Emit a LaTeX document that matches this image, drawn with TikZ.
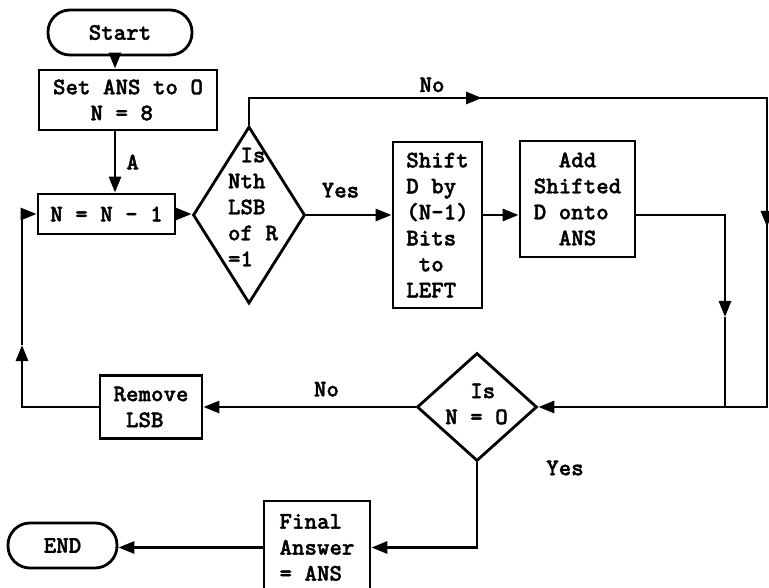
\documentclass[tikz,border=0pt]{standalone}
\usepackage{fontspec}
\newfontfamily\tw{lmmonolt10-bold.otf}[FakeBold=1.5]
\usetikzlibrary{arrows.meta,shapes.geometric}
\newcommand\blk{\hphantom{N}}
\begin{document}
\begin{tikzpicture}[x=1pt,y=-1pt,
  line width=2.8pt,
  every node/.style={font=\tw\fontsize{23.8}{26}\selectfont},
  box/.style={draw, rectangle, inner sep=0pt, align=left},
  term/.style={draw, rectangle, rounded corners=22pt, inner sep=0pt},
  dia/.style={draw, diamond, inner sep=0pt},
  arr/.style={-{Triangle[length=16pt,width=12pt]}},
  lbl/.style={inner sep=0pt}]
\useasboundingbox (0,0) rectangle (769,588);
\clip (0,0) rectangle (769,588);
\fill[white] (0,0) rectangle (769,588);

% nodes
\node[term, minimum width=144pt, minimum height=45pt] (start) at (120,32.5) {Start};
\node[box, minimum width=178pt, minimum height=60pt] (set) at (128,100) {Set ANS to O\\\blk\blk\blk N = 8};
\node[box, minimum width=137pt, minimum height=40pt] (dec) at (106.5,214) {N = N - 1};
\node[dia, minimum width=112pt, minimum height=177pt] (d1) at (249,215) {};
\node[align=left] (d1t) at (253,207) {\blk Is\\Nth\\LSB\\of R\\=1};
\node[box, minimum width=89pt, minimum height=166pt] (shift) at (437.5,225) {Shift\\D by\\(N-1)\\Bits\\\blk to\\LEFT};
\node[box, minimum width=115pt, minimum height=116pt] (add) at (577.5,199) {\blk\blk Add\\Shifted\\D onto\\\blk\blk ANS};
\node[dia, minimum width=120pt, minimum height=108pt] (d2) at (477,407) {};
\node[align=left] (d2t) at (476.5,404) {\blk\blk Is\\N = O};
\node[box, minimum width=102pt, minimum height=63pt] (rem) at (151,407) {Remove\\\blk LSB};
\node[box, minimum width=106pt, minimum height=93pt] (fin) at (317,547.5) {Final\\Answer\\= ANS};
\node[term, minimum width=109pt, minimum height=45pt] (end) at (62.5,545.5) {END};

% helper coordinates
\coordinate (xa) at (115,0);
\coordinate (tr) at (767,98);
\coordinate (m1) at (482,98);
\coordinate (m2) at (767,227);
\coordinate (m3) at (725,317);
\coordinate (m4) at (22,345);

% connectors
\draw[arr] (start.south -| xa) -- (set.north -| xa);
\draw[arr] (set.south -| xa) -- node[right=10pt, lbl]{A} (dec.north -| xa);
\draw[arr] (dec.east) -- (dec.east -| d1.west);
\draw[arr] (d1.east) -- node[pos=0.4, above=16pt, lbl]{Yes} (shift.west |- d1.east);
\draw[arr] (shift.east |- d1.east) -- (add.west |- d1.east);
\draw[arr] (d1.north) |- (tr) |- (d2.east);
\draw[arr] (d1.north |- tr) -- (m1);
\node[lbl, anchor=base] (nolbl) at (432,92) {No};
\draw[arr] (tr) -- (m2);
\draw[arr] (add.east |- d1.east) -| (m3);
\draw (m3) -- (m3 |- d2.east);
\draw[arr] (d2.west) -- node[pos=0.42, above=9pt, lbl]{No} (rem.east |- d2.west);
\draw[arr] (rem.west) -| (m4);
\draw[arr] (m4) |- (dec.west);
\draw[arr] (d2.south) |- (fin.east);
\node[lbl] (yeslbl) at (565,468) {Yes};
\draw[arr] (fin.west) -- (end.east |- fin.west);
\end{tikzpicture}
\end{document}
